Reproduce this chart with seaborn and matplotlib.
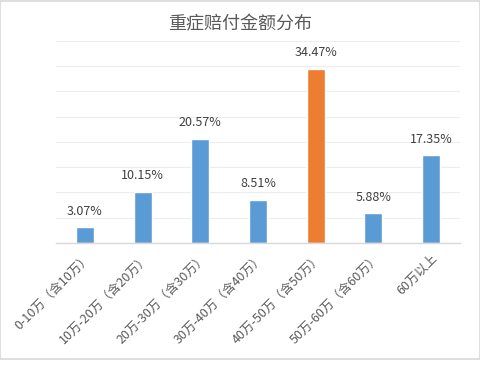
import seaborn as sns
import matplotlib.pyplot as plt
from matplotlib.patches import Rectangle
import numpy as np
import pandas as pd

# 数据
categories = ['0-10万（含10万）', '10万-20万（含20万）', '20万-30万（含30万）', '30万-40万（含40万）',
              '40万-50万（含50万）', '50万-60万（含60万）', '60万以上']
shares = [3.07, 10.15, 20.57, 8.51, 34.47, 5.88, 17.35]
bar_colors = ['#5B9BD5', '#5B9BD5', '#5B9BD5', '#5B9BD5', '#ED7D31', '#5B9BD5', '#5B9BD5']

df = pd.DataFrame({'区间': categories, '占比': shares})

sns.set_style('white')
plt.rcParams['font.family'] = ['Noto Sans CJK SC', 'DejaVu Sans']

fig = plt.figure(figsize=(4.81, 3.69), dpi=100)
ax = fig.add_axes([0.1164, 0.3415, 0.8399, 0.5474])

sns.barplot(data=df, x='区间', y='占比', hue='区间', palette=bar_colors,
            legend=False, width=0.31, saturation=1, ax=ax)

# 数据标签
for c in ax.containers:
    ax.bar_label(c, fmt='%.2f%%', padding=7, fontsize=9, color='#404040')

ax.set_ylim(0, 40)
ax.set_xlim(-0.5, len(categories) - 0.5)
ax.set_yticks(np.arange(0, 41, 5))
ax.set_yticklabels([])
ax.tick_params(axis='y', length=0)
ax.grid(axis='y', color='#EDEDED', linewidth=0.8)
ax.set_axisbelow(True)
ax.set_xlabel('')
ax.set_ylabel('')

for s in ['top', 'right', 'left']:
    ax.spines[s].set_visible(False)
ax.spines['bottom'].set_color('#D9D9D9')
ax.spines['bottom'].set_linewidth(1)

# 分隔刻度
ax.set_xticks(np.arange(-0.5, len(categories)), minor=True)
ax.tick_params(axis='x', which='minor', length=4, color='#D9D9D9', width=1)
ax.tick_params(axis='x', which='major', length=0, pad=6)
ax.set_xticks(range(len(categories)))
ax.set_xticklabels(categories, rotation=45, ha='right', rotation_mode='anchor',
                   fontsize=9, color='#595959')

fig.text(0.5, 0.935, '重症赔付金额分布', ha='center', va='center', fontsize=13, color='#595959')

# 外框
fig.patches.append(Rectangle((0.001, 1 - 359 / 369), 0.997, 359 / 369 - 0.002,
                             transform=fig.transFigure, fill=False,
                             edgecolor='#D9D9D9', linewidth=1.2))

fig.savefig('out.png', dpi=100)
